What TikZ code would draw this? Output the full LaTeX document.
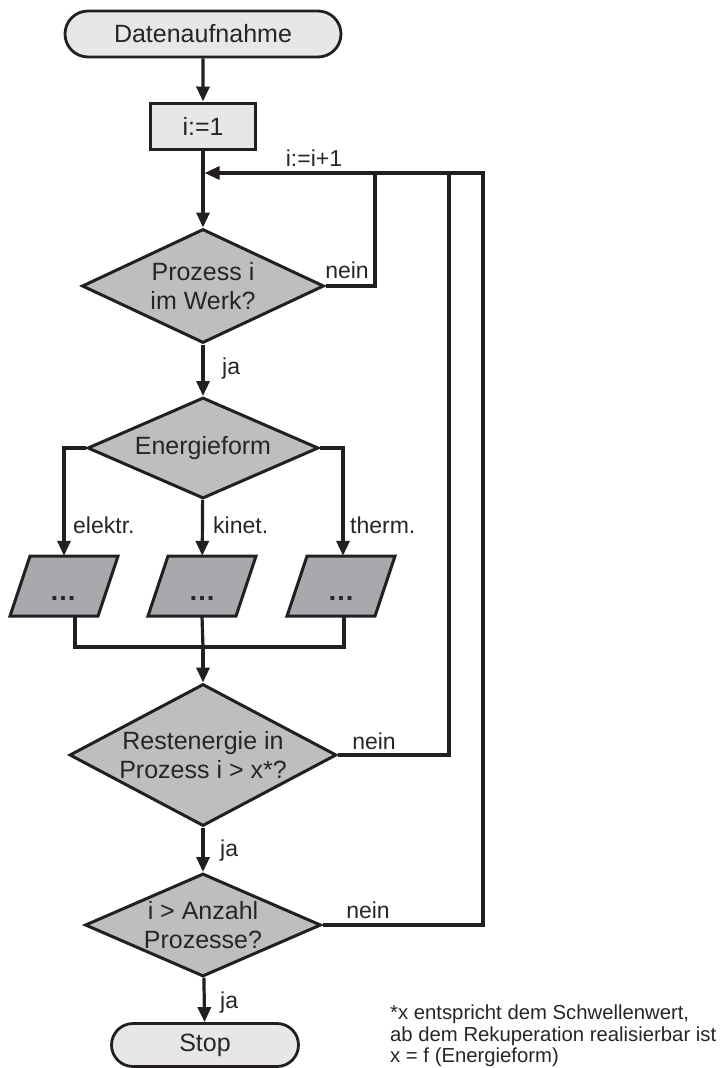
\documentclass[tikz,border=0pt]{standalone}
\usepackage{fontspec}
\setmainfont{Liberation Sans}
\usetikzlibrary{shapes.geometric,shapes.misc,arrows.meta}
\definecolor{lineC}{HTML}{231F20}
\definecolor{txtC}{HTML}{262626}
\definecolor{termF}{HTML}{E6E7E8}
\definecolor{decF}{HTML}{BCBEC0}
\definecolor{ioF}{HTML}{A7A9AC}
\begin{document}
\begin{tikzpicture}[x=1pt,y=-1pt,
  every node/.style={font=\fontsize{25}{29}\selectfont, text=txtC, inner sep=0pt},
  conn/.style={draw=lineC, line width=3.2pt},
  arr/.style={conn, -{Triangle[width=13pt,length=15pt]}},
  term/.style={rounded rectangle, draw=lineC, line width=2.8pt, fill=termF},
  procbox/.style={rectangle, draw=lineC, line width=3pt, fill=termF},
  dec/.style={diamond, draw=lineC, line width=3pt, fill=decF, align=center},
  io/.style={draw=lineC, line width=3pt, fill=ioF, line join=miter},
  iotext/.style={rectangle, minimum width=88pt, minimum height=60pt},
  dots/.style={anchor=base, font=\fontsize{27}{29}\selectfont\bfseries},
  lbl/.style={anchor=base west, font=\fontsize{23}{28}\selectfont},
  lblc/.style={anchor=base, font=\fontsize{23}{28}\selectfont},
  note/.style={font=\fontsize{20.3}{21.5}\selectfont, align=left, anchor=north west}
]
\useasboundingbox (0,0) rectangle (721,1068);

% start / init
\node[term, minimum width=276pt, minimum height=46pt] (start) at (203,34) {Datenaufnahme};
\node[procbox, minimum width=105pt, minimum height=46pt] (init) at (203,126) {i:=1};

% decisions
\node[dec, minimum width=242pt, minimum height=114pt, aspect=2.12] (d1) at (203,286) {Prozess i\\im Werk?};
\node[dec, minimum width=231pt, minimum height=101pt, aspect=2.29] (d2) at (203,448) {Energieform};
\node[dec, minimum width=267pt, minimum height=142pt, aspect=1.88] (d3) at (203,755) {Restenergie in\\Prozess i > x*?};
\node[dec, minimum width=236pt, minimum height=103pt, aspect=2.29] (d4) at (203,925) {i > Anzahl\\Prozesse?};

% stop
\node[term, minimum width=187pt, minimum height=43pt] (stop) at (205,1045) {Stop};

% parallelograms
\coordinate (c1) at (64,586);
\coordinate (c2) at (202,586);
\coordinate (c3) at (341,586);
\path[io] (c1) ++(-34,-30) -- ++(88,0) -- ++(-20,60) -- ++(-88,0) -- cycle;
\path[io] (c2) ++(-34,-30) -- ++(88,0) -- ++(-20,60) -- ++(-88,0) -- cycle;
\path[io] (c3) ++(-34,-30) -- ++(88,0) -- ++(-20,60) -- ++(-88,0) -- cycle;
\node[iotext] (p1) at (c1) {};
\node[iotext] (p2) at (c2) {};
\node[iotext] (p3) at (c3) {};
\node[dots] (t1) at (63,600) {…};
\node[dots] (t2) at (202,600) {…};
\node[dots] (t3) at (341,600) {…};

% loop coordinates
\coordinate (jn) at (203,173);
\coordinate (L1) at (375,173);
\coordinate (L2) at (449,173);
\coordinate (L3) at (483,173);
\coordinate (m) at (203,647);

% connectors
\draw[arr] (start) -- (init);
\draw[arr] (init) -- (d1);
\draw[arr] (d1) -- (d2);
\draw[arr] (d2.west) -| (p1.north);
\draw[arr] (d2) -- (p2);
\draw[arr] (d2.east) -| ([xshift=2pt]p3.north);
\draw[conn] ([xshift=11pt]p1.south) |- (m);
\draw[conn] ([xshift=3pt]p3.south) |- (m);
\draw[conn] (p2.south) -- (m);
\draw[arr] (m) -- (d3);
\draw[arr] (d3) -- (d4);
\draw[arr] (d4) -- (stop);
\draw[conn] (d1.east) -| (L1);
\draw[conn] (d3.east) -| (L2);
\draw[arr, shorten >=1.6pt] (d4.east) -| (L3) -- (jn);

% labels
\node[lblc] (linc) at (314,166) {i:=i+1};
\node[lblc] (n1) at (347,278) {nein};
\node[lbl] (j1) at (222,374) {ja};
\node[lbl] (le) at (73,533) {elektr.};
\node[lbl] (lk) at (213,533) {kinet.};
\node[lbl] (lt) at (350,533) {therm.};
\node[lblc] (n2) at (374,749) {nein};
\node[lbl] (j2) at (220,856) {ja};
\node[lblc] (n3) at (368,918) {nein};
\node[lbl] (j3) at (220,1008) {ja};

% footnote
\node[note] (fn) at (390,1005) {*x entspricht dem Schwellenwert,\\ab dem Rekuperation realisierbar ist\\x = f (Energieform)};
\end{tikzpicture}
\end{document}
